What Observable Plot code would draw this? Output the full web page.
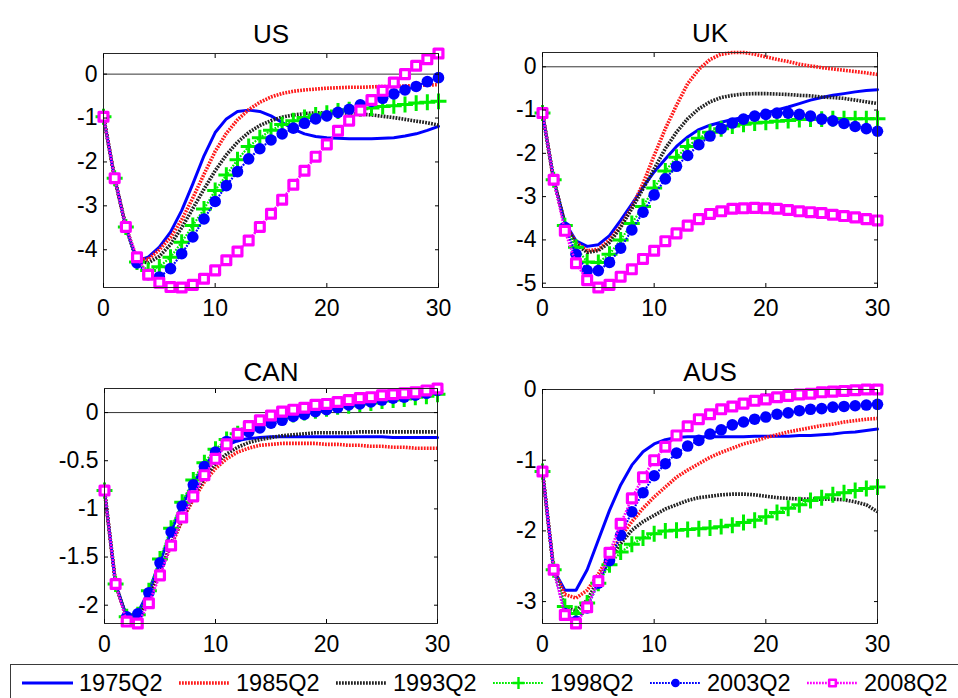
<!DOCTYPE html>
<html>
<head>
<meta charset="utf-8">
<script src="https://cdn.jsdelivr.net/npm/d3@7"></script>
<script src="https://cdn.jsdelivr.net/npm/@observablehq/plot@0.6"></script>
<style>
  html, body { margin: 0; padding: 0; background: #fff; }
  #page { position: relative; width: 958px; height: 698px; overflow: hidden;
          font-family: "Liberation Sans", Arial, sans-serif; background: #fff; }
  #page svg.panel { position: absolute; background: transparent; }
  #legend { position: absolute; left: 10px; top: 664px; width: 1000px; height: 50px;
            border: 1px solid #3a3a3a; box-sizing: border-box; background: #fff;
            display: flex; padding-left: 10px; }
  .item { width: 157px; flex: none; display: flex; align-items: center; height: 36px;
          font-size: 23.5px; color: #000; }
  .item svg { margin-right: 5px; flex: none; }
</style>
</head>
<body>
<div id="page"></div>
<script>
// Impulse-response horizons (quarters)
const horizon = [0,1,2,3,4,5,6,7,8,9,10,11,12,13,14,15,16,17,18,19,20,21,22,23,24,25,26,27,28,29,30];
const vintages = ["1975Q2", "1985Q2", "1993Q2", "1998Q2", "2003Q2", "2008Q2"];
const xTicks = [0, 10, 20, 30];

// US responses by vintage
const us1975 = [-0.97,-2.37,-3.48,-4.25,-4.17,-3.94,-3.6,-3.11,-2.5,-1.86,-1.33,-1.02,-0.85,-0.82,-0.85,-0.95,-1.1,-1.25,-1.36,-1.42,-1.45,-1.46,-1.47,-1.47,-1.47,-1.46,-1.45,-1.41,-1.36,-1.28,-1.19];
const us1985 = [-0.97,-2.37,-3.48,-4.22,-4.22,-4.0,-3.72,-3.32,-2.82,-2.28,-1.76,-1.35,-1.04,-0.81,-0.64,-0.52,-0.44,-0.39,-0.36,-0.34,-0.32,-0.31,-0.3,-0.3,-0.29,-0.28,-0.28,-0.27,-0.26,-0.25,-0.24];
const us1993 = [-0.97,-2.37,-3.48,-4.25,-4.3,-4.15,-3.88,-3.5,-3.06,-2.62,-2.2,-1.84,-1.55,-1.33,-1.17,-1.06,-0.98,-0.93,-0.9,-0.88,-0.88,-0.88,-0.89,-0.91,-0.93,-0.96,-0.99,-1.03,-1.07,-1.11,-1.16];
const us1998 = [-0.97,-2.37,-3.48,-4.28,-4.47,-4.39,-4.17,-3.83,-3.45,-3.07,-2.65,-2.3,-1.95,-1.65,-1.45,-1.28,-1.15,-1.06,-0.99,-0.93,-0.89,-0.84,-0.81,-0.79,-0.77,-0.74,-0.72,-0.69,-0.66,-0.64,-0.62];
const us2003 = [-0.97,-2.37,-3.48,-4.3,-4.57,-4.62,-4.43,-4.09,-3.71,-3.3,-2.9,-2.54,-2.22,-1.93,-1.7,-1.5,-1.36,-1.23,-1.12,-1.02,-0.95,-0.87,-0.8,-0.7,-0.62,-0.55,-0.45,-0.36,-0.28,-0.17,-0.08];
const us2008 = [-0.97,-2.37,-3.48,-4.17,-4.57,-4.75,-4.85,-4.86,-4.8,-4.66,-4.47,-4.24,-4.04,-3.79,-3.48,-3.18,-2.86,-2.52,-2.2,-1.88,-1.6,-1.29,-1.06,-0.83,-0.59,-0.38,-0.19,0.0,0.19,0.34,0.47];

// UK responses by vintage
const uk1975 = [-1.07,-2.61,-3.59,-4.02,-4.15,-4.11,-3.9,-3.55,-3.17,-2.78,-2.43,-2.13,-1.84,-1.62,-1.45,-1.35,-1.28,-1.22,-1.17,-1.12,-1.07,-1.0,-0.93,-0.85,-0.77,-0.71,-0.66,-0.62,-0.58,-0.55,-0.53];
const uk1985 = [-1.07,-2.61,-3.63,-4.06,-4.25,-4.22,-4.0,-3.68,-3.25,-2.7,-2.05,-1.43,-0.89,-0.39,-0.06,0.17,0.29,0.33,0.33,0.29,0.23,0.17,0.12,0.06,0.02,-0.02,-0.05,-0.08,-0.11,-0.14,-0.18];
const uk1993 = [-1.07,-2.61,-3.63,-4.1,-4.29,-4.25,-4.06,-3.71,-3.28,-2.82,-2.36,-1.89,-1.51,-1.2,-0.97,-0.81,-0.71,-0.66,-0.63,-0.62,-0.62,-0.63,-0.64,-0.66,-0.67,-0.7,-0.71,-0.73,-0.77,-0.81,-0.85];
const uk1998 = [-1.07,-2.61,-3.67,-4.17,-4.51,-4.52,-4.33,-4.0,-3.62,-3.23,-2.8,-2.41,-2.09,-1.84,-1.65,-1.51,-1.43,-1.37,-1.33,-1.3,-1.28,-1.26,-1.24,-1.22,-1.21,-1.21,-1.2,-1.2,-1.2,-1.2,-1.2];
const uk2003 = [-1.07,-2.61,-3.71,-4.33,-4.71,-4.71,-4.52,-4.19,-3.77,-3.36,-2.96,-2.59,-2.3,-2.05,-1.8,-1.6,-1.43,-1.3,-1.21,-1.14,-1.1,-1.07,-1.07,-1.1,-1.14,-1.21,-1.25,-1.31,-1.38,-1.43,-1.49];
const uk2008 = [-1.07,-2.61,-3.79,-4.54,-4.93,-5.1,-5.04,-4.85,-4.68,-4.44,-4.25,-4.03,-3.85,-3.67,-3.52,-3.4,-3.34,-3.28,-3.27,-3.26,-3.27,-3.28,-3.31,-3.34,-3.36,-3.38,-3.42,-3.45,-3.48,-3.52,-3.55];

// Canada responses by vintage
const can1975 = [-0.81,-1.78,-2.12,-2.08,-1.85,-1.55,-1.23,-0.95,-0.73,-0.55,-0.42,-0.34,-0.29,-0.27,-0.26,-0.25,-0.25,-0.25,-0.25,-0.25,-0.25,-0.25,-0.25,-0.25,-0.25,-0.25,-0.26,-0.26,-0.26,-0.26,-0.26];
const can1985 = [-0.81,-1.78,-2.14,-2.12,-1.92,-1.66,-1.38,-1.12,-0.9,-0.72,-0.58,-0.48,-0.41,-0.37,-0.34,-0.33,-0.32,-0.32,-0.32,-0.32,-0.33,-0.33,-0.34,-0.34,-0.35,-0.35,-0.36,-0.36,-0.37,-0.37,-0.37];
const can1993 = [-0.81,-1.78,-2.14,-2.12,-1.92,-1.66,-1.36,-1.1,-0.87,-0.68,-0.53,-0.43,-0.36,-0.31,-0.28,-0.26,-0.24,-0.23,-0.22,-0.21,-0.21,-0.21,-0.21,-0.2,-0.2,-0.2,-0.2,-0.2,-0.2,-0.2,-0.2];
const can1998 = [-0.81,-1.78,-2.12,-2.1,-1.85,-1.52,-1.2,-0.93,-0.7,-0.52,-0.38,-0.28,-0.22,-0.17,-0.12,-0.08,-0.05,-0.02,0.0,0.02,0.04,0.06,0.07,0.09,0.1,0.12,0.13,0.14,0.16,0.17,0.19];
const can2003 = [-0.81,-1.78,-2.12,-2.09,-1.87,-1.56,-1.24,-0.97,-0.75,-0.56,-0.41,-0.3,-0.25,-0.2,-0.16,-0.11,-0.08,-0.04,-0.02,0.01,0.03,0.05,0.08,0.09,0.11,0.13,0.15,0.16,0.18,0.2,0.23];
const can2008 = [-0.81,-1.78,-2.17,-2.19,-1.98,-1.69,-1.38,-1.09,-0.87,-0.65,-0.48,-0.33,-0.22,-0.14,-0.08,-0.03,0.01,0.03,0.05,0.08,0.09,0.11,0.13,0.15,0.16,0.18,0.19,0.2,0.21,0.23,0.25];

// Australia responses by vintage
const aus1975 = [-1.16,-2.55,-2.84,-2.84,-2.55,-2.13,-1.71,-1.35,-1.07,-0.88,-0.77,-0.71,-0.68,-0.67,-0.67,-0.67,-0.67,-0.67,-0.67,-0.66,-0.66,-0.66,-0.66,-0.65,-0.65,-0.64,-0.63,-0.61,-0.6,-0.58,-0.56];
const aus1985 = [-1.16,-2.55,-2.9,-2.95,-2.84,-2.61,-2.34,-2.08,-1.87,-1.68,-1.52,-1.38,-1.24,-1.14,-1.05,-0.96,-0.89,-0.83,-0.77,-0.73,-0.68,-0.64,-0.6,-0.57,-0.54,-0.51,-0.49,-0.46,-0.44,-0.42,-0.41];
const aus1993 = [-1.16,-2.55,-3.08,-3.13,-2.98,-2.69,-2.41,-2.18,-1.99,-1.87,-1.78,-1.69,-1.63,-1.57,-1.53,-1.51,-1.49,-1.48,-1.48,-1.49,-1.51,-1.53,-1.54,-1.55,-1.55,-1.55,-1.55,-1.56,-1.59,-1.63,-1.73];
const aus1998 = [-1.16,-2.55,-3.07,-3.17,-3.02,-2.74,-2.48,-2.3,-2.19,-2.1,-2.04,-2.0,-1.99,-1.98,-1.97,-1.96,-1.94,-1.92,-1.88,-1.85,-1.8,-1.74,-1.68,-1.63,-1.57,-1.53,-1.49,-1.46,-1.43,-1.4,-1.38];
const aus2003 = [-1.16,-2.55,-3.17,-3.28,-3.09,-2.74,-2.42,-2.06,-1.73,-1.46,-1.22,-1.05,-0.9,-0.8,-0.72,-0.63,-0.57,-0.5,-0.46,-0.42,-0.39,-0.35,-0.33,-0.3,-0.28,-0.27,-0.25,-0.24,-0.23,-0.22,-0.21];
const aus2008 = [-1.16,-2.55,-3.19,-3.31,-3.08,-2.71,-2.31,-1.9,-1.54,-1.24,-1.0,-0.81,-0.65,-0.52,-0.42,-0.35,-0.28,-0.24,-0.2,-0.16,-0.14,-0.11,-0.09,-0.07,-0.06,-0.04,-0.03,-0.02,-0.01,0.0,0.0];

// y-axis tick labels per panel
const usTicks = [0, -1, -2, -3, -4];
const ukTicks = [0, -1, -2, -3, -4, -5];
const canTicks = [0, -0.5, -1, -1.5, -2];
const ausTicks = [0, -1, -2, -3];

// Line and marker styling for each vintage
const styles = {
  "1975Q2": {stroke: "#0000ff", width: 3, dash: null},
  "1985Q2": {stroke: "#ff1a1a", width: 3.6, dash: "1.8,1.2"},
  "1993Q2": {stroke: "#222222", width: 3.6, dash: "1.8,1.2"},
  "1998Q2": {stroke: "#00ee00", width: 2.2, dash: "1.8,1.2", symbol: "plus", r: 5.2, fill: "none", mstroke: "#00ee00", mwidth: 3},
  "2003Q2": {stroke: "#0000ff", width: 2.2, dash: "1.8,1.2", symbol: "circle", r: 5.8, fill: "#0000ff", mstroke: "none", mwidth: 0},
  "2008Q2": {stroke: "#ff00ff", width: 2.6, dash: "1.8,1.2", symbol: "square", r: 5, fill: "#fff", mstroke: "#ff00ff", mwidth: 3.2}
};

// Panel frames on the page: [left, top, right, bottom]
const panels = [
  {name: "US",  series: [us1975, us1985, us1993, us1998, us2003, us2008], ticks: usTicks,  frame: [103, 53, 438, 287], titleDy: -29},
  {name: "UK",  series: [uk1975, uk1985, uk1993, uk1998, uk2003, uk2008], ticks: ukTicks,  frame: [542, 52, 877, 287], titleDy: -29},
  {name: "CAN", series: [can1975, can1985, can1993, can1998, can2003, can2008], ticks: canTicks, frame: [104, 388, 437, 623], titleDy: -26},
  {name: "AUS", series: [aus1975, aus1985, aus1993, aus1998, aus2003, aus2008], ticks: ausTicks, frame: [542, 389, 877, 623], titleDy: -27}
];

const page = document.getElementById("page");
const M = {l: 64, r: 24, t: 46, b: 40};
const blank = () => "";

for (const p of panels) {
  const rows = [];
  p.series.forEach((vals, j) => vals.forEach((v, i) => rows.push({h: horizon[i], v, vintage: vintages[j]})));
  const [x1, y1, x2, y2] = p.frame;

  const marks = [Plot.ruleY([0], {stroke: "#000", strokeWidth: 0.8})];
  for (const vin of vintages) {
    const s = styles[vin];
    const data = rows.filter(d => d.vintage === vin);
    // butt caps keep the short dashes apart so dotted styles read as dotted
    marks.push(Plot.line(data, {x: "h", y: "v", stroke: s.stroke, strokeWidth: s.width,
                                strokeDasharray: s.dash, strokeLinecap: s.dash ? "butt" : "round"}));
    if (s.symbol) {
      marks.push(Plot.dot(data, {x: "h", y: "v", symbol: s.symbol, r: s.r, fill: s.fill, stroke: s.mstroke,
                                 strokeWidth: s.mwidth, strokeLinejoin: "round"}));
    }
  }
  marks.push(
    Plot.frame({stroke: "#262626", strokeWidth: 1}),
    Plot.axisX({ticks: xTicks, anchor: "bottom", tickSize: 0, tickPadding: 12, tickFormat: d => String(d), label: null}),
    Plot.axisX({ticks: xTicks, anchor: "bottom", tickSize: 4, dy: -4, tickFormat: blank, label: null}),
    Plot.axisX({ticks: xTicks, anchor: "top", tickSize: 4, dy: 4, tickFormat: blank, label: null}),
    Plot.axisY({ticks: p.ticks, anchor: "left", tickSize: 0, tickPadding: 6, tickFormat: d => String(d), label: null}),
    Plot.axisY({ticks: p.ticks, anchor: "left", tickSize: 4, dx: 4, tickFormat: blank, label: null}),
    Plot.axisY({ticks: p.ticks, anchor: "right", tickSize: 4, dx: -4, tickFormat: blank, label: null}),
    Plot.text([p.name], {frameAnchor: "top", dy: p.titleDy, fontSize: 26, fill: "#000"})
  );

  const svg = Plot.plot({
    width: (x2 - x1) + M.l + M.r,
    height: (y2 - y1) + M.t + M.b,
    marginLeft: M.l, marginRight: M.r, marginTop: M.t, marginBottom: M.b,
    x: {domain: [horizon[0], horizon[horizon.length - 1]], label: null},
    y: {domain: d3.extent(rows, d => d.v), label: null},
    style: {fontFamily: "'Liberation Sans', Arial, sans-serif", fontSize: "23px", color: "#000", background: "transparent"},
    marks
  });
  svg.classList.add("panel");
  svg.style.left = (x1 - M.l) + "px";
  svg.style.top = (y1 - M.t) + "px";
  page.appendChild(svg);
}

// Legend strip below the panels
const legend = d3.select(page).append("div").attr("id", "legend");
const symbolTypes = {plus: d3.symbolPlus, circle: d3.symbolCircle, square: d3.symbolSquare};
for (const vin of vintages) {
  const s = styles[vin];
  const item = legend.append("div").attr("class", "item");
  const sw = item.append("svg").attr("width", 53).attr("height", 20);
  sw.append("line").attr("x1", 1).attr("x2", 52).attr("y1", 10).attr("y2", 10)
    .attr("stroke", s.stroke).attr("stroke-width", s.width).attr("stroke-dasharray", s.dash);
  if (s.symbol) {
    const r = s.r * 0.75;
    sw.append("path").attr("transform", "translate(26.5,10)")
      .attr("d", d3.symbol(symbolTypes[s.symbol], Math.PI * r * r)())
      .attr("fill", s.fill).attr("stroke", s.mstroke).attr("stroke-width", s.mwidth * 0.8)
      .attr("stroke-linejoin", "round");
  }
  item.append("span").text(vin);
}
</script>
</body>
</html>
